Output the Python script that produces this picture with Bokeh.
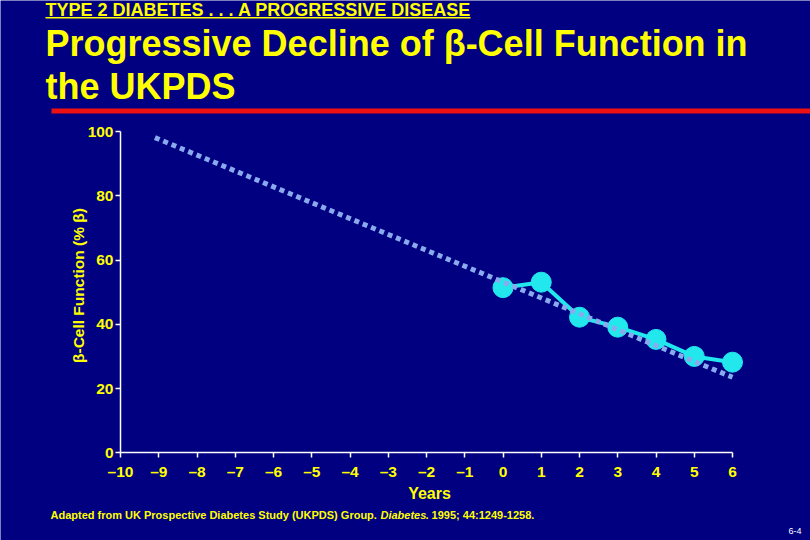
import math
from bokeh.plotting import figure
from bokeh.models import Label, BoxAnnotation, Range1d, FixedTicker, LinearAxis
from bokeh.embed import file_html
from bokeh.resources import INLINE

# ---- data ----
years = [0, 1, 2, 3, 4, 5, 6]
beta_function = [51.4, 53.1, 42.2, 39.1, 35.3, 30.0, 28.2]
trend_years = [-9.1, 6.0]
trend_beta = [98.1, 23.5]
x_ticks = list(range(-10, 7))
x_tick_labels = ["\u201310", "\u20139", "\u20138", "\u20137", "\u20136", "\u20135", "\u20134",
                 "\u20133", "\u20132", "\u20131", "0", "1", "2", "3", "4", "5", "6"]
y_ticks = [0, 20, 40, 60, 80, 100]

BG = "#000080"
YEL = "#ffff00"
FONT = "Liberation Sans"
W, H = 810, 540

# page layout: x=-10 at px 120, x=6 at px 732 ; y=0 at py 452.3, y=100 at py 130.7
PX0, PXU = 120.0, 38.25
PY0, PYU = 452.3, 3.213

def dx(px):
    return -10 + (px - PX0) / PXU

def dy(py):
    return (PY0 - py) / PYU

p = figure(width=W, height=H, output_backend="svg", toolbar_location=None,
           x_range=Range1d(dx(0), dx(W)), y_range=Range1d(dy(H), dy(0)),
           min_border=0, x_axis_type=None, y_axis_type=None,
           background_fill_color=BG, border_fill_color=BG, outline_line_color=None)
p.grid.visible = False

xax = LinearAxis(fixed_location=0, bounds=(-10, 6))
yax = LinearAxis(fixed_location=-10, bounds=(0, 100))
p.add_layout(xax, "below")
p.add_layout(yax, "left")

for ax in (xax, yax):
    ax.axis_line_color = "white"
    ax.axis_line_width = 1.5
    ax.major_tick_line_color = "white"
    ax.major_tick_line_width = 1.5
    ax.major_tick_in = 0
    ax.major_tick_out = 5
    ax.minor_tick_line_color = None
    ax.major_label_text_color = YEL
    ax.major_label_text_font = FONT
    ax.major_label_text_font_style = "bold"
    ax.major_label_text_font_size = "15.5px"

xax.ticker = FixedTicker(ticks=x_ticks)
xax.major_label_overrides = {t: l for t, l in zip(x_ticks, x_tick_labels)}
xax.major_label_standoff = 5
yax.ticker = FixedTicker(ticks=y_ticks)
yax.major_label_standoff = 2

CY = "#22e8ee"
p.line(years, beta_function, line_color=CY, line_width=4)
p.scatter(years, beta_function, size=20, fill_color=CY, line_color=CY)
p.line(trend_years, trend_beta, line_color="#8aaaee", line_width=5, line_dash="5 4")

def label(text, px, py, size, style="bold", color=YEL, align="left", baseline="alphabetic", angle=0):
    # py is the intended visual baseline; compensate the renderer's baseline shift
    if baseline == "alphabetic":
        py = py - 0.33 * float(size.replace("px", ""))
    p.add_layout(Label(x=dx(px), y=dy(py), text=text, text_color=color, text_font=FONT,
                       text_font_style=style, text_font_size=size, text_align=align,
                       text_baseline=baseline, angle=angle))

def box(l, r, t, b, color):
    p.add_layout(BoxAnnotation(left=dx(l), right=dx(r), top=dy(t), bottom=dy(b),
                               fill_color=color, fill_alpha=1, line_color=None))

# axis titles
label("Years", 429, 493, "16px", align="center", baseline="middle")
label("\u03b2-Cell Function (% \u03b2)", 78, 285, "15.5px", align="center", baseline="middle",
      angle=math.pi / 2)

# header and title
label("TYPE 2 DIABETES . . . A PROGRESSIVE DISEASE", 45, 15, "18px")
box(45, 470, 16.5, 18, YEL)
label("Progressive Decline of \u03b2-Cell Function in", 45, 55, "36px")
label("the UKPDS", 45, 98, "36px")
box(51, 812, 108, 113, "#ee1111")

# footnote
label("Adapted from UK Prospective Diabetes Study (UKPDS) Group. ", 50, 518, "11px")
label("Diabetes", 380, 518, "11px", style="bold italic")
label(". 1995; 44:1249-1258.", 425, 518, "11px")
label("6-4", 788, 533, "9px", style="normal", color="white")

open("out.html", "w").write(file_html(p, INLINE))
